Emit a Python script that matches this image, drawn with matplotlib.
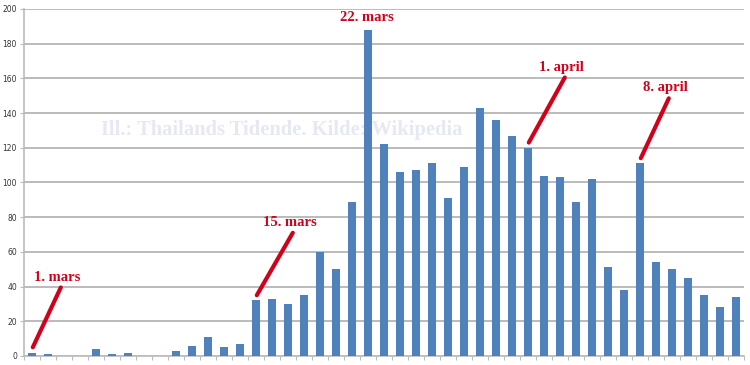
import matplotlib
matplotlib.use('Agg')
import matplotlib.pyplot as plt
import numpy as np

# Daily new cases, 1 March - 14 April
days = ['1. mars', '2. mars', '3. mars', '4. mars', '5. mars', '6. mars', '7. mars',
        '8. mars', '9. mars', '10. mars', '11. mars', '12. mars', '13. mars', '14. mars',
        '15. mars', '16. mars', '17. mars', '18. mars', '19. mars', '20. mars', '21. mars',
        '22. mars', '23. mars', '24. mars', '25. mars', '26. mars', '27. mars', '28. mars',
        '29. mars', '30. mars', '31. mars', '1. april', '2. april', '3. april', '4. april',
        '5. april', '6. april', '7. april', '8. april', '9. april', '10. april',
        '11. april', '12. april', '13. april', '14. april']
cases = [2, 1, 0, 0, 4, 1, 2, 0, 0, 3, 6, 11, 5, 7, 32,
         33, 30, 35, 60, 50, 89, 188, 122, 106, 107, 111, 91, 109, 143, 136, 127,
         120, 104, 103, 89, 102, 51, 38, 111, 54, 50, 45, 35, 28, 34]

# Labelled days: text x offset, text y, pointer line or not
marked = ['1. mars', '15. mars', '22. mars', '1. april', '8. april']
text_dx = [1.6, 2.1, -0.1, 2.1, 1.6]
text_y = [45.5, 77, 195, 166.5, 154.5]
has_line = [True, True, False, True, True]

bar_color = '#4F81BD'
red = '#D0021B'
grid_color = '#BBBBBB'

fig = plt.figure(figsize=(7.5, 3.65), dpi=100)
ax = fig.add_axes([0.032, 0.0247, 0.96, 0.9507])

x = np.arange(len(days))
ax.bar(x, cases, width=0.5, color=bar_color, zorder=3)

ax.set_xlim(-0.5, len(days) - 0.5)
ax.set_ylim(0, 200)
ax.set_yticks(range(0, 201, 20))
ax.set_xticks(np.arange(-0.5, len(days), 1))
ax.set_xticklabels([])
ax.tick_params(axis='x', length=3, color=grid_color, direction='out')
ax.tick_params(axis='y', length=3, color=grid_color, labelsize=5.5,
               labelcolor='#333333', pad=2)
ax.yaxis.grid(True, color=grid_color, linewidth=1.4, zorder=0)
for s in ['top', 'right']:
    ax.spines[s].set_visible(False)
for s in ['left', 'bottom']:
    ax.spines[s].set_color(grid_color)
    ax.spines[s].set_linewidth(1.2)

# watermark behind the bars
ax.text(15.6, 130, 'Ill.: Thailands Tidende. Kilde: Wikipedia',
        fontsize=14.8, fontweight='bold', family='Liberation Serif',
        color='#E6E8F2', ha='center', va='center', zorder=1)

for d, dx, ty, ln in zip(marked, text_dx, text_y, has_line):
    i = days.index(d)
    ax.text(i + dx, ty, d, fontsize=10.5, fontweight='bold', family='Liberation Serif',
            color=red, ha='center', va='center', zorder=5)
    if ln:
        ax.plot([i + dx + 0.2, i + 0.05], [ty - 6, cases[i] + 3],
                color=red, linewidth=3, solid_capstyle='round', zorder=5,
                clip_on=False)

fig.savefig('out.png', dpi=100)
